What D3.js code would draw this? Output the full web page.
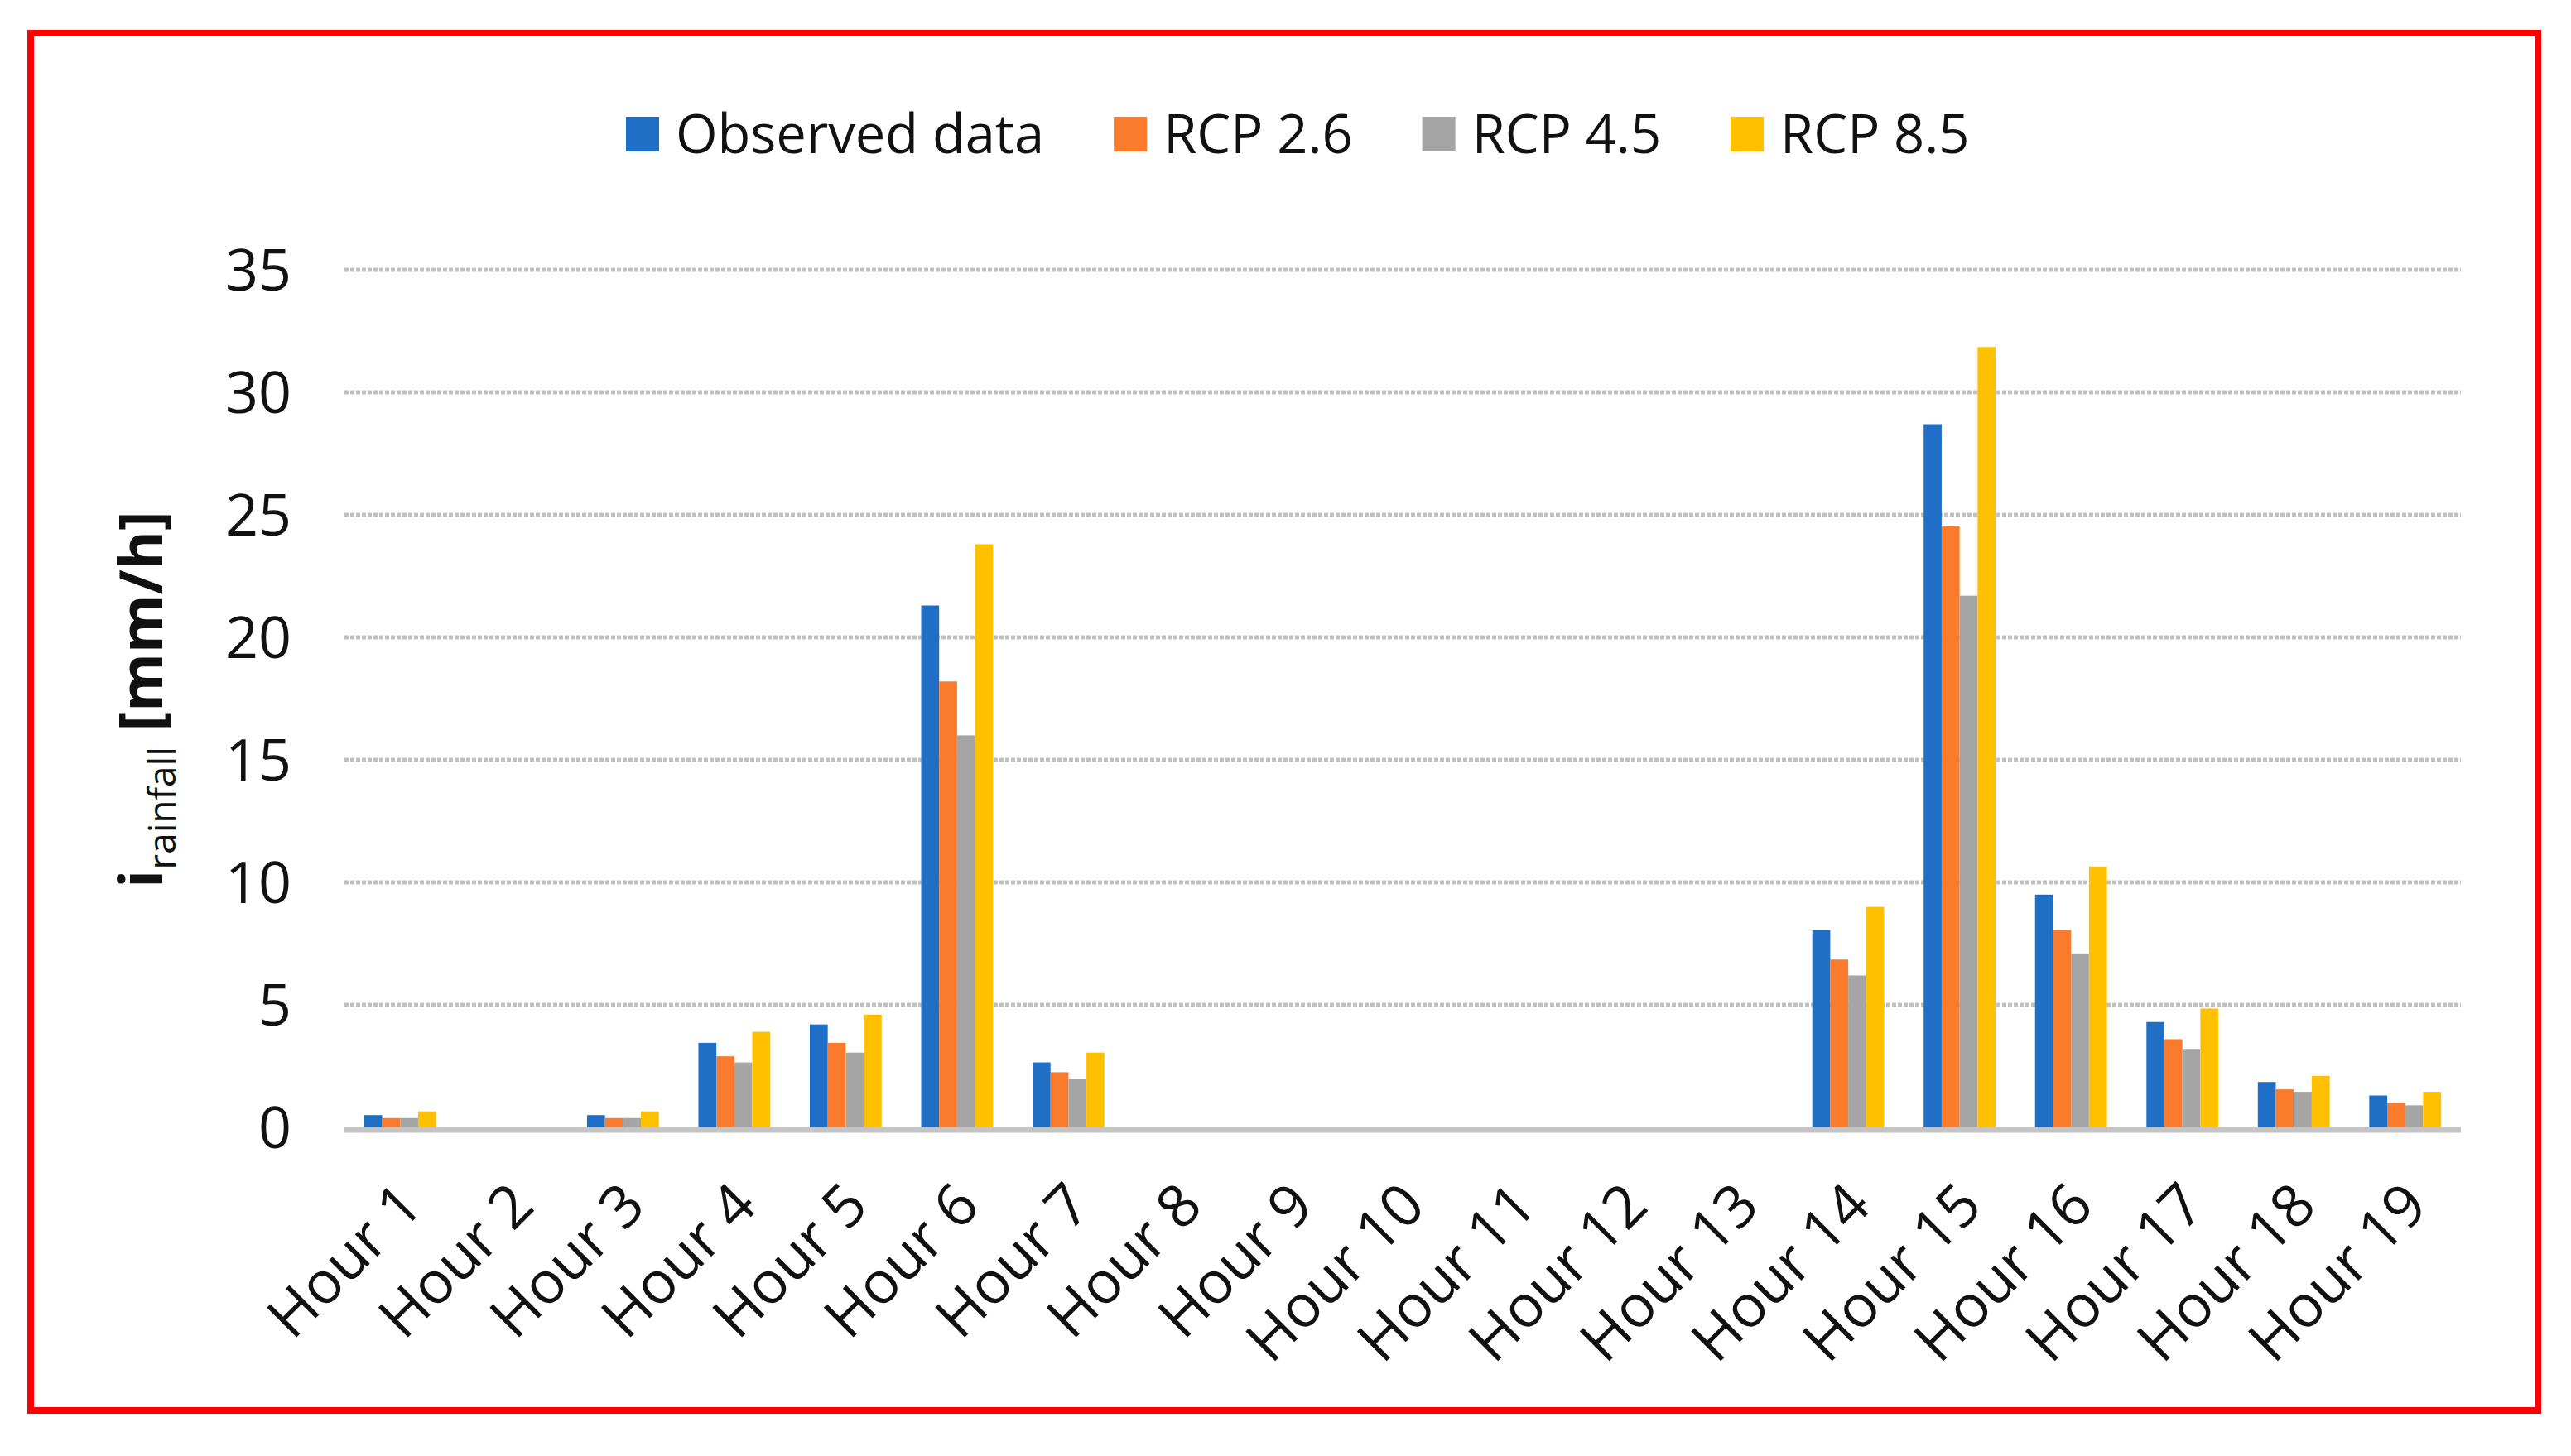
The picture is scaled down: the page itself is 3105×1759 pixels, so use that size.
<!DOCTYPE html>
<html>
<head>
<meta charset="utf-8">
<script src="https://cdn.jsdelivr.net/npm/d3@7"></script>
<style>
  html, body { margin: 0; padding: 0; background: #fff; }
  text { font-family: "Open Sans", "Noto Sans", sans-serif; fill: #111; }
</style>
</head>
<body>
<svg id="chart" width="3105" height="1759"></svg>
<script>
// categories and series
const hours = ["Hour 1","Hour 2","Hour 3","Hour 4","Hour 5","Hour 6","Hour 7","Hour 8","Hour 9","Hour 10",
  "Hour 11","Hour 12","Hour 13","Hour 14","Hour 15","Hour 16","Hour 17","Hour 18","Hour 19"];
const seriesNames = ["Observed data", "RCP 2.6", "RCP 4.5", "RCP 8.5"];
const observed = [0.5, 0, 0.5, 3.45, 4.2, 21.3, 2.65, 0, 0, 0, 0, 0, 0, 8.05, 28.7, 9.5, 4.3, 1.85, 1.3];
const rcp26    = [0.38, 0, 0.38, 2.9, 3.45, 18.2, 2.25, 0, 0, 0, 0, 0, 0, 6.85, 24.55, 8.05, 3.6, 1.55, 1.0];
const rcp45    = [0.38, 0, 0.38, 2.65, 3.05, 16.0, 1.98, 0, 0, 0, 0, 0, 0, 6.2, 21.7, 7.1, 3.2, 1.45, 0.9];
const rcp85    = [0.65, 0, 0.65, 3.9, 4.6, 23.8, 3.05, 0, 0, 0, 0, 0, 0, 9.0, 31.85, 10.65, 4.85, 2.1, 1.45];
const yTicks = [0, 5, 10, 15, 20, 25, 30, 35];
const colors = ["#1f6fc6", "#fb7b2c", "#a5a5a5", "#ffc000"];

const values = [observed, rcp26, rcp45, rcp85];
const svg = d3.select("#chart");

// red frame
svg.append("rect")
  .attr("x", 37).attr("y", 40)
  .attr("width", 3028).attr("height", 1664)
  .attr("fill", "none").attr("stroke", "#ff0000").attr("stroke-width", 8);

const plotLeft = 416, plotRight = 2972, plotTop = 326, plotBottom = 1362;

const x0 = d3.scaleBand().domain(hours).range([plotLeft, plotRight]).paddingInner(0).paddingOuter(0);
const x1 = d3.scaleBand().domain(seriesNames).range([0, x0.bandwidth()]).paddingInner(0).paddingOuter(1.1);
const y = d3.scaleLinear().domain([0, 35]).range([plotBottom, plotTop]);

// gridlines
svg.append("g").selectAll("line")
  .data(yTicks.filter(d => d > 0))
  .enter().append("line")
    .attr("x1", plotLeft).attr("x2", plotRight)
    .attr("y1", d => y(d)).attr("y2", d => y(d))
    .attr("stroke", "#c2c2c2").attr("stroke-width", 5)
    .attr("stroke-dasharray", "5,2");

// y tick labels
svg.append("g").selectAll("text")
  .data(yTicks)
  .enter().append("text")
    .attr("x", 352).attr("y", d => y(d))
    .attr("dy", "0.36em")
    .attr("text-anchor", "end")
    .style("font-size", "70px")
    .text(d => d);

// bars
const groups = svg.append("g").selectAll("g")
  .data(hours)
  .enter().append("g")
    .attr("transform", d => "translate(" + x0(d) + ",0)");

groups.selectAll("rect")
  .data((d, i) => seriesNames.map((s, j) => ({ s: s, v: values[j][i], c: colors[j] })))
  .enter().append("rect")
    .attr("x", d => x1(d.s))
    .attr("width", x1.bandwidth())
    .attr("y", d => y(d.v))
    .attr("height", d => y(0) - y(d.v))
    .attr("fill", d => d.c);

// zero axis line
svg.append("line")
  .attr("x1", plotLeft).attr("x2", plotRight)
  .attr("y1", y(0) + 3).attr("y2", y(0) + 3)
  .attr("stroke", "#c4c4c4").attr("stroke-width", 7);

// x labels, rotated
svg.append("g").selectAll("text")
  .data(hours)
  .enter().append("text")
    .attr("transform", d => "translate(" + (x0(d) + x0.bandwidth() / 2 - 6) + "," + (y(0) + 62) + ") rotate(-45)")
    .attr("text-anchor", "end")
    .attr("dy", "0.72em")
    .style("font-size", "71px")
    .text(d => d);

// y axis title
const title = svg.append("text")
  .attr("transform", "translate(196,845) rotate(-90)")
  .attr("text-anchor", "middle")
  .style("font-size", "72px");
title.append("tspan").style("font-weight", "bold").text("i");
title.append("tspan").style("font-size", "46px").attr("dy", 16).text("rainfall");
title.append("tspan").style("font-weight", "bold").attr("dy", -16).text(" [mm/h]");

// legend
const legend = svg.append("g");
let lx = 756;
seriesNames.forEach(function(s, i){
  legend.append("rect")
    .attr("x", lx).attr("y", 141)
    .attr("width", 40).attr("height", 42)
    .attr("fill", colors[i]);
  const t = legend.append("text")
    .attr("x", lx + 60).attr("y", 162)
    .attr("dy", "0.36em")
    .style("font-size", "65px")
    .text(s);
  lx += 60 + t.node().getComputedTextLength() + 84;
});
</script>
</body>
</html>
